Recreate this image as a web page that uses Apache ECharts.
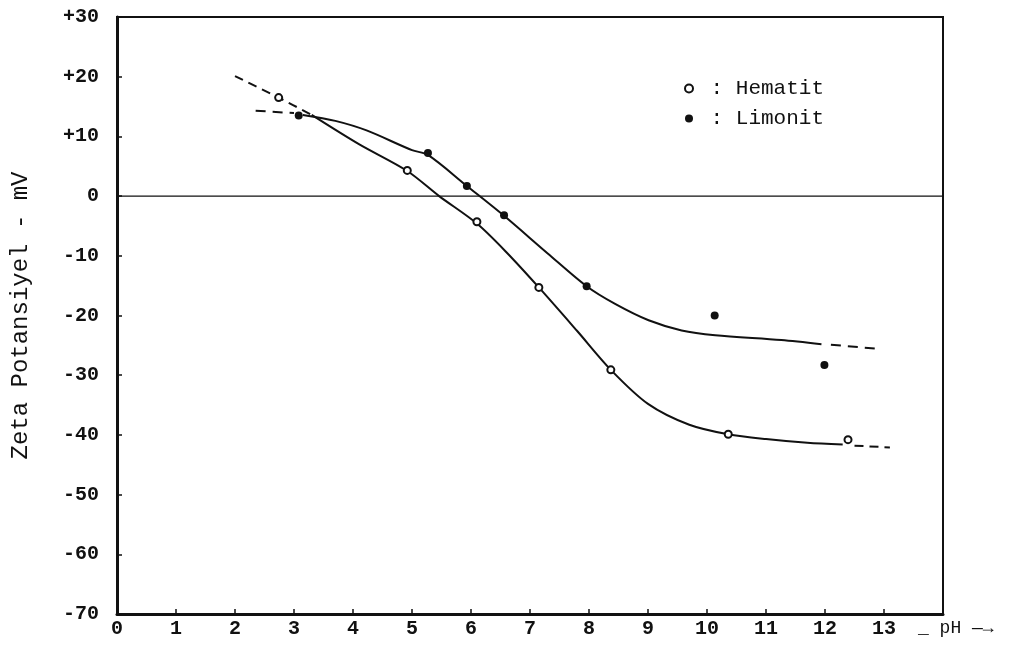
<!DOCTYPE html>
<html>
<head>
<meta charset="utf-8">
<script src="https://cdn.jsdelivr.net/npm/echarts@6/dist/echarts.min.js"></script>
<style>html,body{margin:0;padding:0;background:#fff}#c{width:1027px;height:647px}</style>
</head>
<body>
<div id="c"></div>
<script>
// Measured points (pH, zeta potential mV)
const hematitPoints = [[2.74,16.5],[4.92,4.3],[6.1,-4.3],[7.15,-15.3],[8.37,-29.1],[10.36,-39.9],[12.39,-40.8]];
const limonitPoints = [[3.08,13.5],[5.27,7.2],[5.93,1.7],[6.56,-3.2],[7.96,-15.1],[10.13,-20.0],[11.99,-28.3]];
// Hand-drawn fitted curves
const hematitCurveDashStart = [[2.0,20.1],[2.74,16.5],[3.3,13.6]];
const hematitCurveSolid = [[3.3,13.6],[4.1,8.7],[4.92,4.2],[5.46,0],[6.1,-4.6],[6.6,-9.4],[7.15,-15.3],[7.8,-22.6],[8.37,-29.1],[9.0,-34.8],[9.7,-38.3],[10.36,-39.9],[11.0,-40.7],[11.7,-41.3],[12.3,-41.6]];
const hematitCurveDashEnd = [[12.5,-41.8],[13.1,-42.1]];
const limonitCurveDashStart = [[2.35,14.3],[3.0,13.9]];
const limonitCurveSolid = [[3.15,13.6],[3.7,12.6],[4.23,11.0],[5.0,7.7],[5.27,6.9],[5.93,1.7],[6.56,-3.3],[7.3,-9.6],[7.96,-15.1],[8.45,-18.1],[9.01,-20.8],[9.57,-22.5],[10.14,-23.3],[11.26,-24.1],[11.94,-24.8]];
const limonitCurveDashEnd = [[12.1,-24.9],[12.93,-25.6]];
const xTicks = [0,1,2,3,4,5,6,7,8,9,10,11,12,13];
const yTicks = [30,20,10,0,-10,-20,-30,-40,-50,-60,-70];

const FONT = '"Liberation Mono", "DejaVu Sans Mono", monospace';
const chart = echarts.init(document.getElementById('c'), null, {renderer:'canvas'});
const curveStyle = (type) => ({color:'#111', width:2, type: type});
chart.setOption({
  animation:false,
  backgroundColor:'#fff',
  grid:{left:117,right:84,top:17,bottom:33,show:true,borderColor:'#111',borderWidth:2,backgroundColor:'transparent'},
  xAxis:{type:'value',min:0,max:14,interval:1,
    axisLine:{show:true,onZero:false,lineStyle:{color:'#111',width:3}},
    axisTick:{show:true,inside:true,length:5,lineStyle:{color:'#111',width:1.5}},
    splitLine:{show:false},
    axisLabel:{color:'#111',fontFamily:FONT,fontSize:20,fontWeight:'bold',margin:5,
      formatter:v=> xTicks.indexOf(v)>=0 ? String(v) : ''}
  },
  yAxis:{type:'value',min:-70,max:30,interval:10,
    name:'Zeta Potansiyel - mV',nameLocation:'middle',nameGap:84,nameRotate:90,
    nameTextStyle:{color:'#111',fontFamily:FONT,fontSize:24},
    axisLine:{show:true,onZero:false,lineStyle:{color:'#111',width:3}},
    axisTick:{show:true,inside:true,length:5,lineStyle:{color:'#111',width:1.5}},
    splitLine:{show:false},
    axisLabel:{color:'#111',fontFamily:FONT,fontSize:20,fontWeight:'bold',margin:18,
      formatter:v=> yTicks.indexOf(v)>=0 ? (v>0?'+'+v:String(v)) : ''}
  },
  legend:{orient:'vertical',left:679,top:73,itemWidth:8,itemHeight:8,itemGap:9,
    data:['Hematit','Limonit'],
    formatter:n=>' : '+n,
    textStyle:{color:'#111',fontFamily:FONT,fontSize:21,lineHeight:20}
  },
  graphic:[{type:'text',left:918,top:619,style:{text:'_ pH —→',fill:'#111',font:'18px '+FONT}}],
  series:[
    {type:'line',name:'zero',data:[[0,0],[14,0]],symbol:'none',silent:true,
      lineStyle:{color:'#111',width:1.3},z:1},
    {type:'line',data:hematitCurveDashStart,symbol:'none',smooth:0.3,lineStyle:curveStyle([9,6])},
    {type:'line',data:hematitCurveSolid,symbol:'none',smooth:0.3,lineStyle:curveStyle('solid')},
    {type:'line',data:hematitCurveDashEnd,symbol:'none',lineStyle:curveStyle([9,6])},
    {type:'line',data:limonitCurveDashStart,symbol:'none',lineStyle:curveStyle([10,7])},
    {type:'line',data:limonitCurveSolid,symbol:'none',smooth:0.3,lineStyle:curveStyle('solid')},
    {type:'line',data:limonitCurveDashEnd,symbol:'none',lineStyle:curveStyle([10,7])},
    {type:'scatter',name:'Hematit',data:hematitPoints,symbol:'emptyCircle',symbolSize:7,
      itemStyle:{color:'#111',borderColor:'#111',borderWidth:1.5,opacity:1},z:5},
    {type:'scatter',name:'Limonit',data:limonitPoints,symbol:'circle',symbolSize:8,
      itemStyle:{color:'#111',opacity:1},z:5}
  ]
});
</script>
</body>
</html>
